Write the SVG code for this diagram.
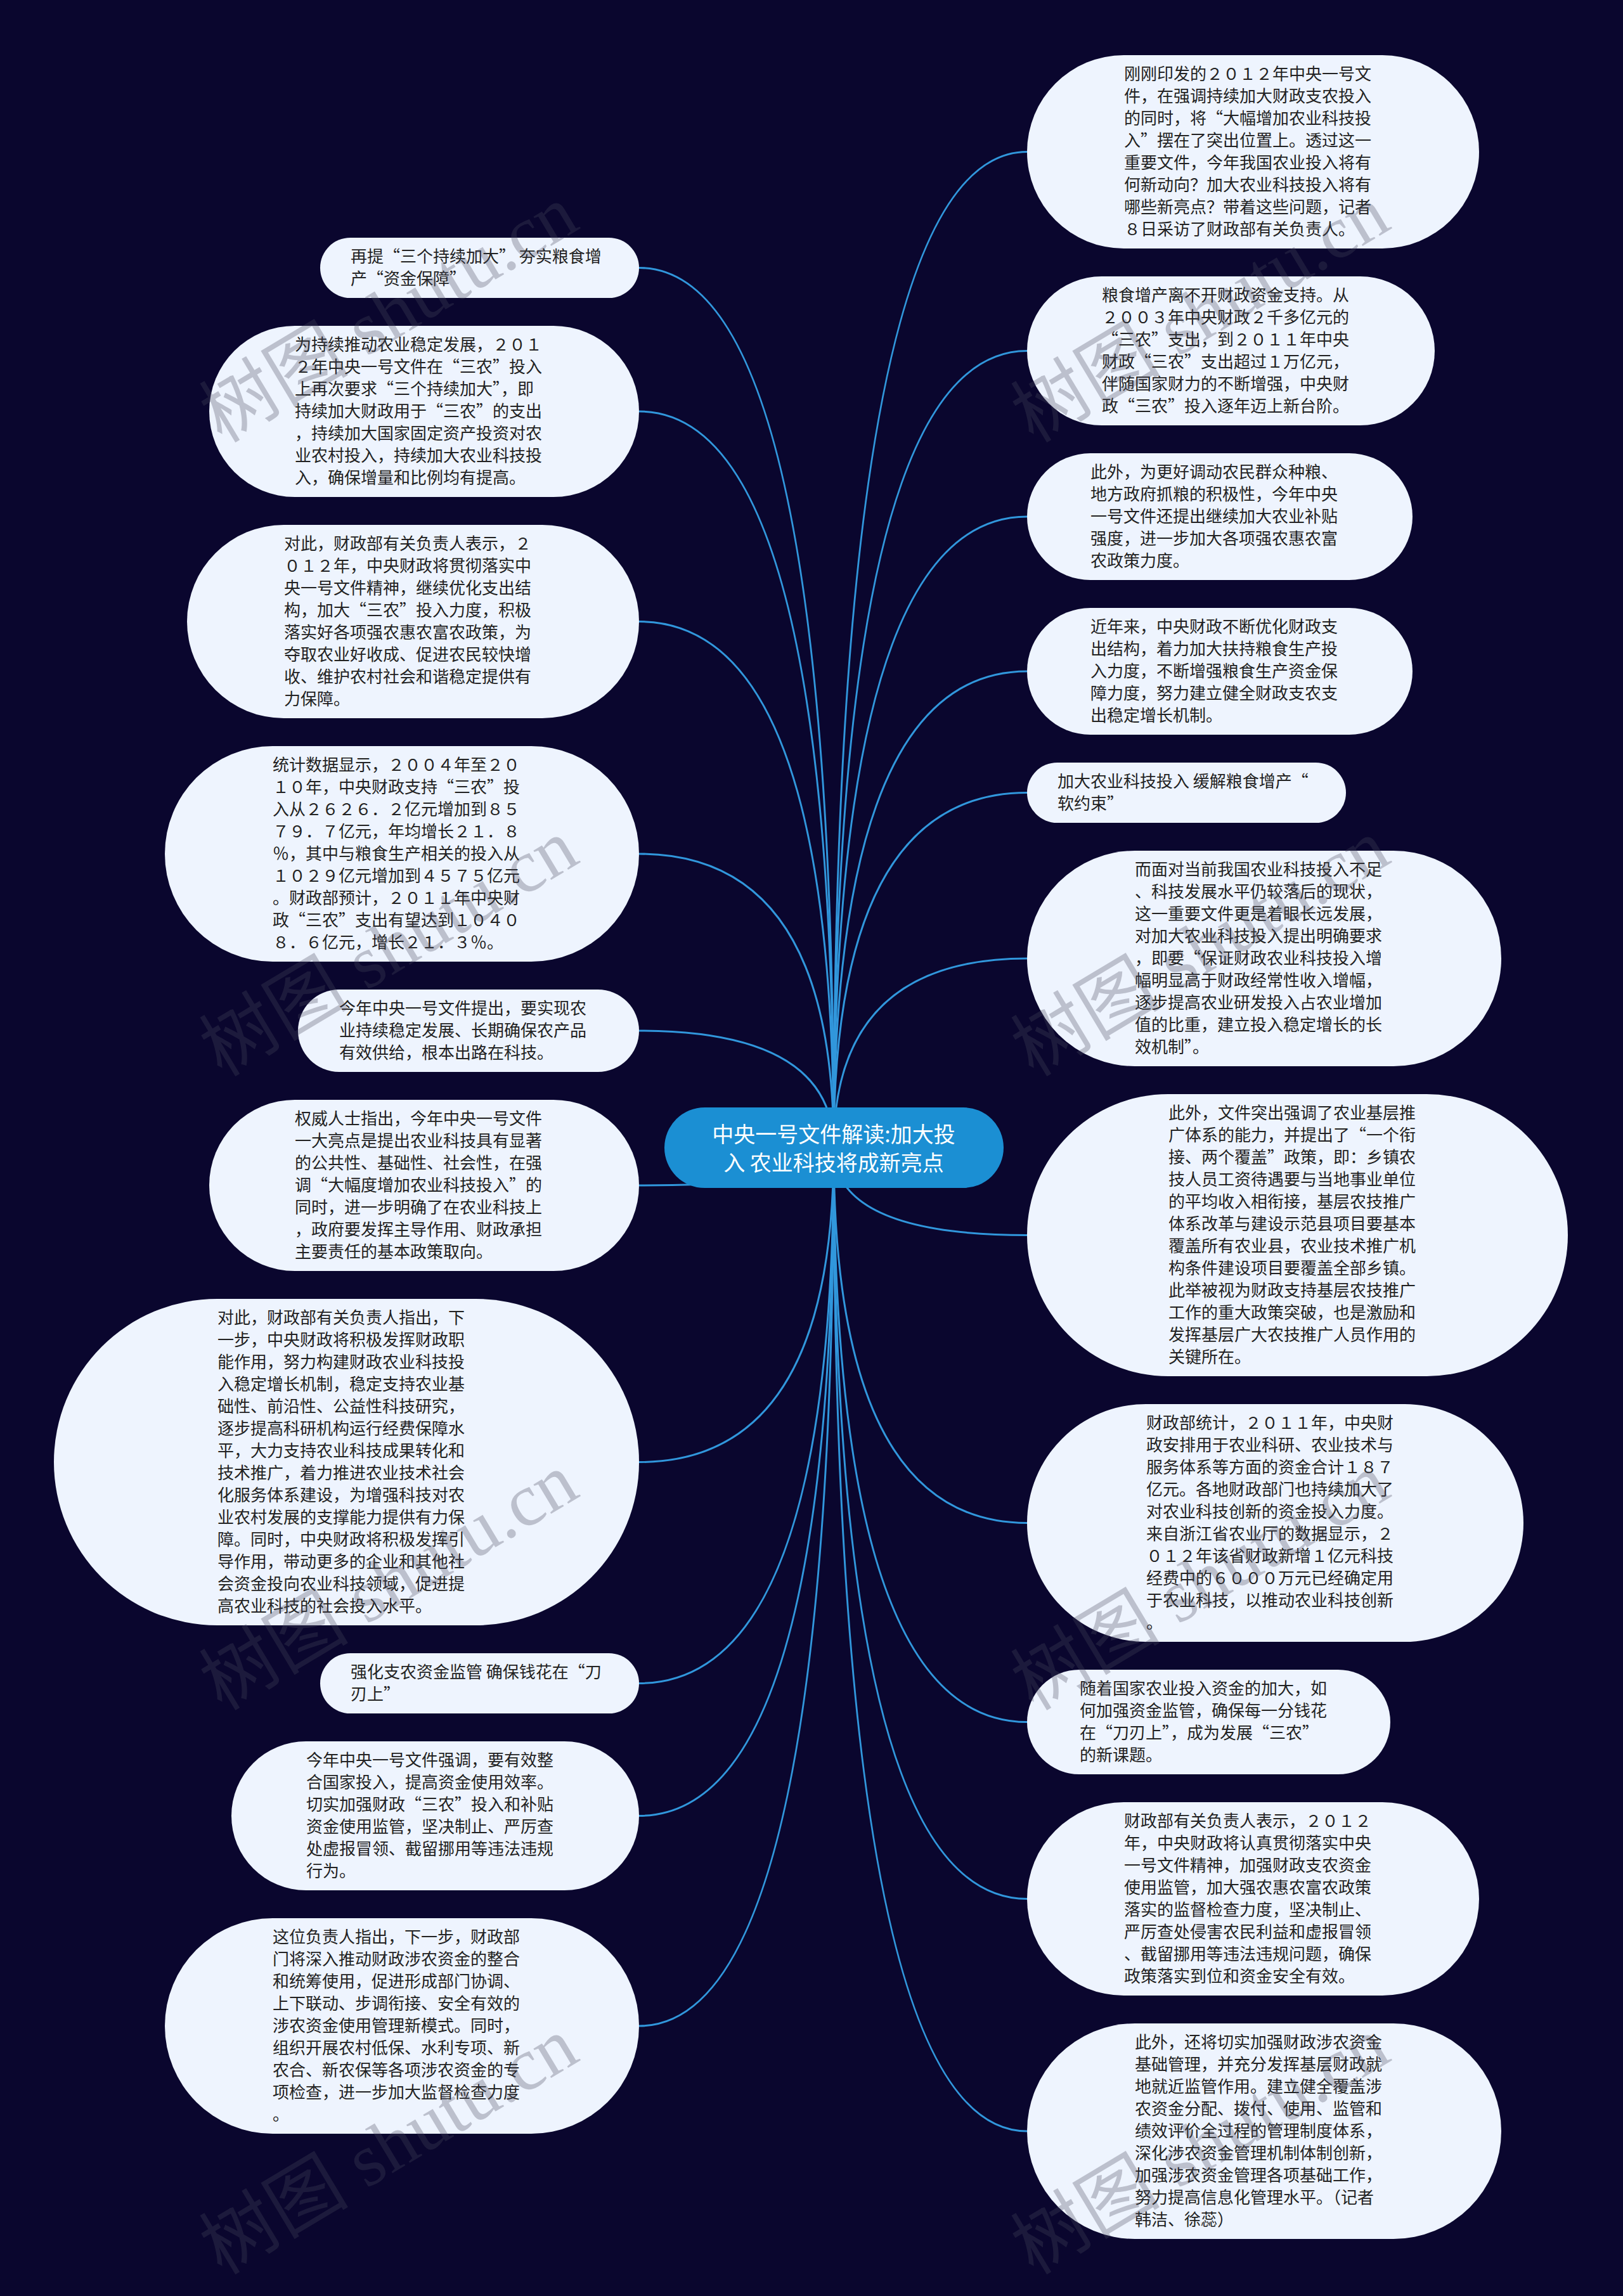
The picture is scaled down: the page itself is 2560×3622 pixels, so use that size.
<svg xmlns="http://www.w3.org/2000/svg" width="2560" height="3622" viewBox="0 0 2560 3622" lang="zh-CN">
<style>
.bg{fill:#0a062e}
.n rect{fill:#eef4fe}
.t{font-family:"Noto Sans CJK SC","Noto Sans",sans-serif;font-size:26px;fill:#222}
.c path{fill:none;stroke:#3197dc;stroke-width:3}
.root rect{fill:#1b8fd3}
.rt{font-family:"Noto Sans CJK SC","Noto Sans",sans-serif;font-size:34px;fill:#fff;text-anchor:middle}
.wm{font-family:"Liberation Serif","Noto Sans CJK SC",serif;font-size:118px;fill:#4a4a5c;fill-opacity:0.3}
</style>
<rect class="bg" x="0" y="0" width="2560" height="3622"/>
<g id="connectors" class="c">
<path d="M1315 1811 Q1315 422.5 1008 422.5"/>
<path d="M1315 1811 Q1315 649 1008 649"/>
<path d="M1315 1811 Q1315 980.5 1008 980.5"/>
<path d="M1315 1811 Q1315 1347 1008 1347"/>
<path d="M1315 1811 Q1315 1626 1008 1626"/>
<path d="M1315 1811 Q1315 1870 1008 1870"/>
<path d="M1315 1811 Q1315 2306.5 1008 2306.5"/>
<path d="M1315 1811 Q1315 2655.5 1008 2655.5"/>
<path d="M1315 1811 Q1315 2864.5 1008 2864.5"/>
<path d="M1315 1811 Q1315 3196 1008 3196"/>
<path d="M1315 1811 Q1315 239.5 1620 239.5"/>
<path d="M1315 1811 Q1315 553.5 1620 553.5"/>
<path d="M1315 1811 Q1315 815 1620 815"/>
<path d="M1315 1811 Q1315 1059 1620 1059"/>
<path d="M1315 1811 Q1315 1250.5 1620 1250.5"/>
<path d="M1315 1811 Q1315 1512 1620 1512"/>
<path d="M1315 1811 Q1315 1948.5 1620 1948.5"/>
<path d="M1315 1811 Q1315 2402.5 1620 2402.5"/>
<path d="M1315 1811 Q1315 2716.5 1620 2716.5"/>
<path d="M1315 1811 Q1315 2995.5 1620 2995.5"/>
<path d="M1315 1811 Q1315 3362 1620 3362"/>
</g>
<g id="root" class="root">
<rect x="1048" y="1747" width="535" height="127" rx="63.5"/>
<text class="rt"><tspan x="1315" y="1802">中央一号文件解读:加大投</tspan><tspan x="1315" y="1847">入 农业科技将成新亮点</tspan></text>
</g>
<g id="L1" class="n"><rect x="505" y="375" width="503" height="95" rx="47.5"/>
<text class="t"><tspan x="553" y="414">再提“三个持续加大” 夯实粮食增</tspan><tspan x="553" y="449">产“资金保障”</tspan></text></g>
<g id="L2" class="n"><rect x="330" y="514" width="678" height="270" rx="135"/>
<text class="t"><tspan x="465" y="553">为持续推动农业稳定发展，２０１</tspan><tspan x="465" y="588">２年中央一号文件在“三农”投入</tspan><tspan x="465" y="623">上再次要求“三个持续加大”，即</tspan><tspan x="465" y="658">持续加大财政用于“三农”的支出</tspan><tspan x="465" y="693">，持续加大国家固定资产投资对农</tspan><tspan x="465" y="728">业农村投入，持续加大农业科技投</tspan><tspan x="465" y="763">入，确保增量和比例均有提高。</tspan></text></g>
<g id="L3" class="n"><rect x="295" y="828" width="713" height="305" rx="152.5"/>
<text class="t"><tspan x="448" y="867">对此，财政部有关负责人表示，２</tspan><tspan x="448" y="902">０１２年，中央财政将贯彻落实中</tspan><tspan x="448" y="937">央一号文件精神，继续优化支出结</tspan><tspan x="448" y="972">构，加大“三农”投入力度，积极</tspan><tspan x="448" y="1007">落实好各项强农惠农富农政策，为</tspan><tspan x="448" y="1042">夺取农业好收成、促进农民较快增</tspan><tspan x="448" y="1077">收、维护农村社会和谐稳定提供有</tspan><tspan x="448" y="1112">力保障。</tspan></text></g>
<g id="L4" class="n"><rect x="260" y="1177" width="748" height="340" rx="170"/>
<text class="t"><tspan x="430" y="1216">统计数据显示，２００４年至２０</tspan><tspan x="430" y="1251">１０年，中央财政支持“三农”投</tspan><tspan x="430" y="1286">入从２６２６．２亿元增加到８５</tspan><tspan x="430" y="1321">７９．７亿元，年均增长２１．８</tspan><tspan x="430" y="1356">％，其中与粮食生产相关的投入从</tspan><tspan x="430" y="1391">１０２９亿元增加到４５７５亿元</tspan><tspan x="430" y="1426">。财政部预计，２０１１年中央财</tspan><tspan x="430" y="1461">政“三农”支出有望达到１０４０</tspan><tspan x="430" y="1496">８．６亿元，增长２１．３％。</tspan></text></g>
<g id="L5" class="n"><rect x="470" y="1561" width="538" height="130" rx="65"/>
<text class="t"><tspan x="535" y="1600">今年中央一号文件提出，要实现农</tspan><tspan x="535" y="1635">业持续稳定发展、长期确保农产品</tspan><tspan x="535" y="1670">有效供给，根本出路在科技。</tspan></text></g>
<g id="L6" class="n"><rect x="330" y="1735" width="678" height="270" rx="135"/>
<text class="t"><tspan x="465" y="1774">权威人士指出，今年中央一号文件</tspan><tspan x="465" y="1809">一大亮点是提出农业科技具有显著</tspan><tspan x="465" y="1844">的公共性、基础性、社会性，在强</tspan><tspan x="465" y="1879">调“大幅度增加农业科技投入”的</tspan><tspan x="465" y="1914">同时，进一步明确了在农业科技上</tspan><tspan x="465" y="1949">，政府要发挥主导作用、财政承担</tspan><tspan x="465" y="1984">主要责任的基本政策取向。</tspan></text></g>
<g id="L7" class="n"><rect x="85" y="2049" width="923" height="515" rx="257.5"/>
<text class="t"><tspan x="343" y="2088">对此，财政部有关负责人指出，下</tspan><tspan x="343" y="2123">一步，中央财政将积极发挥财政职</tspan><tspan x="343" y="2158">能作用，努力构建财政农业科技投</tspan><tspan x="343" y="2193">入稳定增长机制，稳定支持农业基</tspan><tspan x="343" y="2228">础性、前沿性、公益性科技研究，</tspan><tspan x="343" y="2263">逐步提高科研机构运行经费保障水</tspan><tspan x="343" y="2298">平，大力支持农业科技成果转化和</tspan><tspan x="343" y="2333">技术推广，着力推进农业技术社会</tspan><tspan x="343" y="2368">化服务体系建设，为增强科技对农</tspan><tspan x="343" y="2403">业农村发展的支撑能力提供有力保</tspan><tspan x="343" y="2438">障。同时，中央财政将积极发挥引</tspan><tspan x="343" y="2473">导作用，带动更多的企业和其他社</tspan><tspan x="343" y="2508">会资金投向农业科技领域，促进提</tspan><tspan x="343" y="2543">高农业科技的社会投入水平。</tspan></text></g>
<g id="L8" class="n"><rect x="505" y="2608" width="503" height="95" rx="47.5"/>
<text class="t"><tspan x="553" y="2647">强化支农资金监管 确保钱花在“刀</tspan><tspan x="553" y="2682">刃上”</tspan></text></g>
<g id="L9" class="n"><rect x="365" y="2747" width="643" height="235" rx="117.5"/>
<text class="t"><tspan x="483" y="2786">今年中央一号文件强调，要有效整</tspan><tspan x="483" y="2821">合国家投入，提高资金使用效率。</tspan><tspan x="483" y="2856">切实加强财政“三农”投入和补贴</tspan><tspan x="483" y="2891">资金使用监管，坚决制止、严厉查</tspan><tspan x="483" y="2926">处虚报冒领、截留挪用等违法违规</tspan><tspan x="483" y="2961">行为。</tspan></text></g>
<g id="L10" class="n"><rect x="260" y="3026" width="748" height="340" rx="170"/>
<text class="t"><tspan x="430" y="3065">这位负责人指出，下一步，财政部</tspan><tspan x="430" y="3100">门将深入推动财政涉农资金的整合</tspan><tspan x="430" y="3135">和统筹使用，促进形成部门协调、</tspan><tspan x="430" y="3170">上下联动、步调衔接、安全有效的</tspan><tspan x="430" y="3205">涉农资金使用管理新模式。同时，</tspan><tspan x="430" y="3240">组织开展农村低保、水利专项、新</tspan><tspan x="430" y="3275">农合、新农保等各项涉农资金的专</tspan><tspan x="430" y="3310">项检查，进一步加大监督检查力度</tspan><tspan x="430" y="3345">。</tspan></text></g>
<g id="R1" class="n"><rect x="1620" y="87" width="713" height="305" rx="152.5"/>
<text class="t"><tspan x="1773" y="126">刚刚印发的２０１２年中央一号文</tspan><tspan x="1773" y="161">件，在强调持续加大财政支农投入</tspan><tspan x="1773" y="196">的同时，将“大幅增加农业科技投</tspan><tspan x="1773" y="231">入”摆在了突出位置上。透过这一</tspan><tspan x="1773" y="266">重要文件，今年我国农业投入将有</tspan><tspan x="1773" y="301">何新动向？加大农业科技投入将有</tspan><tspan x="1773" y="336">哪些新亮点？带着这些问题，记者</tspan><tspan x="1773" y="371">８日采访了财政部有关负责人。</tspan></text></g>
<g id="R2" class="n"><rect x="1620" y="436" width="643" height="235" rx="117.5"/>
<text class="t"><tspan x="1738" y="475">粮食增产离不开财政资金支持。从</tspan><tspan x="1738" y="510">２００３年中央财政２千多亿元的</tspan><tspan x="1738" y="545">“三农”支出，到２０１１年中央</tspan><tspan x="1738" y="580">财政“三农”支出超过１万亿元，</tspan><tspan x="1738" y="615">伴随国家财力的不断增强，中央财</tspan><tspan x="1738" y="650">政“三农”投入逐年迈上新台阶。</tspan></text></g>
<g id="R3" class="n"><rect x="1620" y="715" width="608" height="200" rx="100"/>
<text class="t"><tspan x="1720" y="754">此外，为更好调动农民群众种粮、</tspan><tspan x="1720" y="789">地方政府抓粮的积极性，今年中央</tspan><tspan x="1720" y="824">一号文件还提出继续加大农业补贴</tspan><tspan x="1720" y="859">强度，进一步加大各项强农惠农富</tspan><tspan x="1720" y="894">农政策力度。</tspan></text></g>
<g id="R4" class="n"><rect x="1620" y="959" width="608" height="200" rx="100"/>
<text class="t"><tspan x="1720" y="998">近年来，中央财政不断优化财政支</tspan><tspan x="1720" y="1033">出结构，着力加大扶持粮食生产投</tspan><tspan x="1720" y="1068">入力度，不断增强粮食生产资金保</tspan><tspan x="1720" y="1103">障力度，努力建立健全财政支农支</tspan><tspan x="1720" y="1138">出稳定增长机制。</tspan></text></g>
<g id="R5" class="n"><rect x="1620" y="1203" width="503" height="95" rx="47.5"/>
<text class="t"><tspan x="1668" y="1242">加大农业科技投入 缓解粮食增产“</tspan><tspan x="1668" y="1277">软约束”</tspan></text></g>
<g id="R6" class="n"><rect x="1620" y="1342" width="748" height="340" rx="170"/>
<text class="t"><tspan x="1790" y="1381">而面对当前我国农业科技投入不足</tspan><tspan x="1790" y="1416">、科技发展水平仍较落后的现状，</tspan><tspan x="1790" y="1451">这一重要文件更是着眼长远发展，</tspan><tspan x="1790" y="1486">对加大农业科技投入提出明确要求</tspan><tspan x="1790" y="1521">，即要“保证财政农业科技投入增</tspan><tspan x="1790" y="1556">幅明显高于财政经常性收入增幅，</tspan><tspan x="1790" y="1591">逐步提高农业研发投入占农业增加</tspan><tspan x="1790" y="1626">值的比重，建立投入稳定增长的长</tspan><tspan x="1790" y="1661">效机制”。</tspan></text></g>
<g id="R7" class="n"><rect x="1620" y="1726" width="853" height="445" rx="222.5"/>
<text class="t"><tspan x="1843" y="1765">此外，文件突出强调了农业基层推</tspan><tspan x="1843" y="1800">广体系的能力，并提出了“一个衔</tspan><tspan x="1843" y="1835">接、两个覆盖”政策，即：乡镇农</tspan><tspan x="1843" y="1870">技人员工资待遇要与当地事业单位</tspan><tspan x="1843" y="1905">的平均收入相衔接，基层农技推广</tspan><tspan x="1843" y="1940">体系改革与建设示范县项目要基本</tspan><tspan x="1843" y="1975">覆盖所有农业县，农业技术推广机</tspan><tspan x="1843" y="2010">构条件建设项目要覆盖全部乡镇。</tspan><tspan x="1843" y="2045">此举被视为财政支持基层农技推广</tspan><tspan x="1843" y="2080">工作的重大政策突破，也是激励和</tspan><tspan x="1843" y="2115">发挥基层广大农技推广人员作用的</tspan><tspan x="1843" y="2150">关键所在。</tspan></text></g>
<g id="R8" class="n"><rect x="1620" y="2215" width="783" height="375" rx="187.5"/>
<text class="t"><tspan x="1808" y="2254">财政部统计，２０１１年，中央财</tspan><tspan x="1808" y="2289">政安排用于农业科研、农业技术与</tspan><tspan x="1808" y="2324">服务体系等方面的资金合计１８７</tspan><tspan x="1808" y="2359">亿元。各地财政部门也持续加大了</tspan><tspan x="1808" y="2394">对农业科技创新的资金投入力度。</tspan><tspan x="1808" y="2429">来自浙江省农业厅的数据显示，２</tspan><tspan x="1808" y="2464">０１２年该省财政新增１亿元科技</tspan><tspan x="1808" y="2499">经费中的６０００万元已经确定用</tspan><tspan x="1808" y="2534">于农业科技，以推动农业科技创新</tspan><tspan x="1808" y="2569">。</tspan></text></g>
<g id="R9" class="n"><rect x="1620" y="2634" width="573" height="165" rx="82.5"/>
<text class="t"><tspan x="1703" y="2673">随着国家农业投入资金的加大，如</tspan><tspan x="1703" y="2708">何加强资金监管，确保每一分钱花</tspan><tspan x="1703" y="2743">在“刀刃上”，成为发展“三农”</tspan><tspan x="1703" y="2778">的新课题。</tspan></text></g>
<g id="R10" class="n"><rect x="1620" y="2843" width="713" height="305" rx="152.5"/>
<text class="t"><tspan x="1773" y="2882">财政部有关负责人表示，２０１２</tspan><tspan x="1773" y="2917">年，中央财政将认真贯彻落实中央</tspan><tspan x="1773" y="2952">一号文件精神，加强财政支农资金</tspan><tspan x="1773" y="2987">使用监管，加大强农惠农富农政策</tspan><tspan x="1773" y="3022">落实的监督检查力度，坚决制止、</tspan><tspan x="1773" y="3057">严厉查处侵害农民利益和虚报冒领</tspan><tspan x="1773" y="3092">、截留挪用等违法违规问题，确保</tspan><tspan x="1773" y="3127">政策落实到位和资金安全有效。</tspan></text></g>
<g id="R11" class="n"><rect x="1620" y="3192" width="748" height="340" rx="170"/>
<text class="t"><tspan x="1790" y="3231">此外，还将切实加强财政涉农资金</tspan><tspan x="1790" y="3266">基础管理，并充分发挥基层财政就</tspan><tspan x="1790" y="3301">地就近监管作用。建立健全覆盖涉</tspan><tspan x="1790" y="3336">农资金分配、拨付、使用、监管和</tspan><tspan x="1790" y="3371">绩效评价全过程的管理制度体系，</tspan><tspan x="1790" y="3406">深化涉农资金管理机制体制创新，</tspan><tspan x="1790" y="3441">加强涉农资金管理各项基础工作，</tspan><tspan x="1790" y="3476">努力提高信息化管理水平。（记者</tspan><tspan x="1790" y="3511">韩洁、徐蕊）</tspan></text></g>
<g id="watermark" class="wm">
<text x="350" y="700" transform="rotate(-31 350 700)">树图 shutu.cn</text>
<text x="350" y="1700" transform="rotate(-31 350 1700)">树图 shutu.cn</text>
<text x="350" y="2700" transform="rotate(-31 350 2700)">树图 shutu.cn</text>
<text x="350" y="3590" transform="rotate(-31 350 3590)">树图 shutu.cn</text>
<text x="1630" y="700" transform="rotate(-31 1630 700)">树图 shutu.cn</text>
<text x="1630" y="1700" transform="rotate(-31 1630 1700)">树图 shutu.cn</text>
<text x="1630" y="2700" transform="rotate(-31 1630 2700)">树图 shutu.cn</text>
<text x="1630" y="3590" transform="rotate(-31 1630 3590)">树图 shutu.cn</text>
</g>
</svg>
